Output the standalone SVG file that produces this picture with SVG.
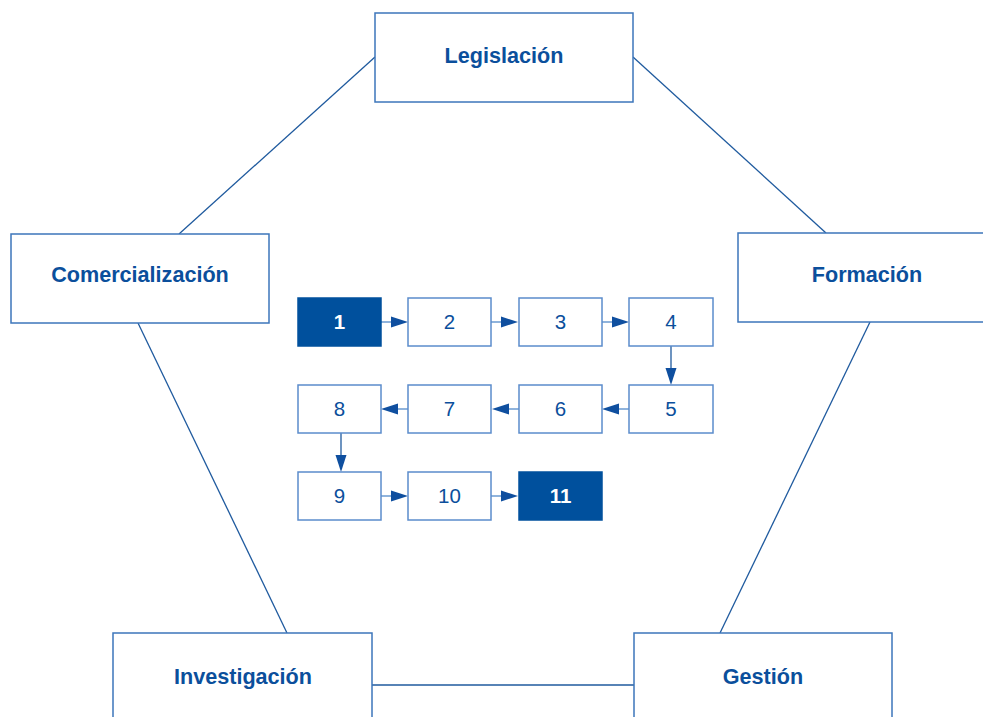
<svg xmlns="http://www.w3.org/2000/svg" width="983" height="717" viewBox="0 0 983 717">
<style>
.big{fill:#fff;stroke:#3d76bb;stroke-width:1.5}
.bt{font-family:"Liberation Sans",Arial,sans-serif;font-weight:bold;font-size:21.6px;fill:#0b4f9c;text-anchor:middle}
.sm{fill:#fff;stroke:#5b8ccc;stroke-width:1.5}
.dk{fill:#00509d;stroke:#00509d;stroke-width:1.5}
.nt{font-family:"Liberation Sans",Arial,sans-serif;font-size:20.5px;fill:#0b4f9c;text-anchor:middle}
.nw{font-family:"Liberation Sans",Arial,sans-serif;font-size:20.5px;font-weight:bold;fill:#fff;text-anchor:middle}
.ln{stroke:#1f5a9e;stroke-width:1.3;fill:none}
.ar{stroke:#6a9ad0;stroke-width:1.5;fill:none}
.hd{fill:#0f4f9f}
</style>
<rect width="983" height="717" fill="#fff"/>
<g id="connectors">
<line class="ln" x1="375" y1="57" x2="179" y2="234"/>
<line class="ln" x1="633" y1="57" x2="826" y2="233"/>
<line class="ln" x1="138" y1="323" x2="287" y2="633"/>
<line class="ln" x1="870" y1="322" x2="720" y2="633"/>
<line class="ln" x1="372" y1="685" x2="634" y2="685"/>
<line class="ar" x1="381" y1="322" x2="392" y2="322"/><polygon class="hd" points="391,316.5 408,322 391,327.5"/>
<line class="ar" x1="491" y1="322" x2="502" y2="322"/><polygon class="hd" points="501,316.5 518,322 501,327.5"/>
<line class="ar" x1="602" y1="322" x2="613" y2="322"/><polygon class="hd" points="612,316.5 629,322 612,327.5"/>
<line class="ln" x1="671" y1="346" x2="671" y2="369"/><polygon class="hd" points="665.5,368 671,385 676.5,368"/>
<line class="ar" x1="629" y1="409" x2="618" y2="409"/><polygon class="hd" points="619,403.5 602,409 619,414.5"/>
<line class="ar" x1="519" y1="409" x2="508" y2="409"/><polygon class="hd" points="509,403.5 492,409 509,414.5"/>
<line class="ar" x1="408" y1="409" x2="397" y2="409"/><polygon class="hd" points="398,403.5 381,409 398,414.5"/>
<line class="ln" x1="341" y1="433" x2="341" y2="456"/><polygon class="hd" points="335.5,455 341,472 346.5,455"/>
<line class="ar" x1="381" y1="496" x2="392" y2="496"/><polygon class="hd" points="391,490.5 408,496 391,501.5"/>
<line class="ar" x1="491" y1="496" x2="502" y2="496"/><polygon class="hd" points="501,490.5 518,496 501,501.5"/>
</g>
<g id="legislacion"><rect class="big" x="375" y="13" width="258" height="89"/><text class="bt" x="504" y="63">Legislación</text></g>
<g id="comercializacion"><rect class="big" x="11" y="234" width="258" height="89"/><text class="bt" x="140" y="282">Comercialización</text></g>
<g id="formacion"><rect class="big" x="738" y="233" width="258" height="89"/><text class="bt" x="867" y="282">Formación</text></g>
<g id="investigacion"><rect class="big" x="113" y="633" width="259" height="100"/><text class="bt" x="243" y="684">Investigación</text></g>
<g id="gestion"><rect class="big" x="634" y="633" width="258" height="100"/><text class="bt" x="763" y="684">Gestión</text></g>
<g id="n1"><rect class="dk" x="298" y="298" width="83" height="48"/><text class="nw" x="339.5" y="329">1</text></g>
<g id="n2"><rect class="sm" x="408" y="298" width="83" height="48"/><text class="nt" x="449.5" y="329">2</text></g>
<g id="n3"><rect class="sm" x="519" y="298" width="83" height="48"/><text class="nt" x="560.5" y="329">3</text></g>
<g id="n4"><rect class="sm" x="629" y="298" width="84" height="48"/><text class="nt" x="671" y="329">4</text></g>
<g id="n5"><rect class="sm" x="629" y="385" width="84" height="48"/><text class="nt" x="671" y="416">5</text></g>
<g id="n6"><rect class="sm" x="519" y="385" width="83" height="48"/><text class="nt" x="560.5" y="416">6</text></g>
<g id="n7"><rect class="sm" x="408" y="385" width="83" height="48"/><text class="nt" x="449.5" y="416">7</text></g>
<g id="n8"><rect class="sm" x="298" y="385" width="83" height="48"/><text class="nt" x="339.5" y="416">8</text></g>
<g id="n9"><rect class="sm" x="298" y="472" width="83" height="48"/><text class="nt" x="339.5" y="503">9</text></g>
<g id="n10"><rect class="sm" x="408" y="472" width="83" height="48"/><text class="nt" x="449.5" y="503">10</text></g>
<g id="n11"><rect class="dk" x="519" y="472" width="83" height="48"/><text class="nw" x="560.5" y="503">11</text></g>
</svg>
